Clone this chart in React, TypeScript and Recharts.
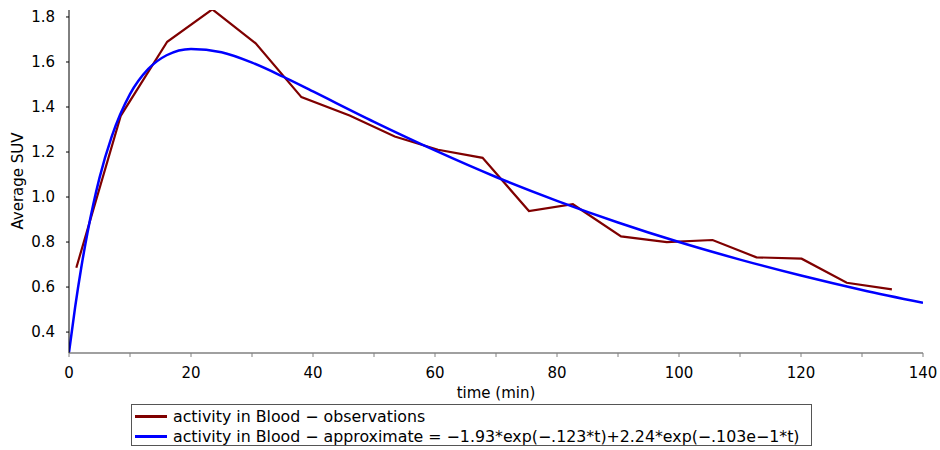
import { Label, Line, LineChart, XAxis, YAxis } from "recharts";

// observations (red)
const obsTime = [1.2, 8.5, 16.1, 23.5, 30.6, 38.1, 46, 53.4, 60.5, 67.8, 75.4, 82.6, 90.5, 98, 105.5, 112.7, 120.1, 127.5, 134.9];
const obsSuv = [0.686, 1.362, 1.69, 1.834, 1.683, 1.444, 1.362, 1.269, 1.21, 1.174, 0.938, 0.968, 0.825, 0.8, 0.809, 0.732, 0.726, 0.619, 0.59];

// fitted curve (blue)
const fitTime = [0, 1, 2, 3, 5, 7, 10, 13, 16, 20, 25, 30, 35, 40, 50, 60, 70, 80, 90, 100, 110, 120, 130, 140];
const fitSuv = [0.31, 0.51, 0.685, 0.837, 1.085, 1.268, 1.457, 1.569, 1.63, 1.658, 1.643, 1.597, 1.536, 1.469, 1.334, 1.207, 1.089, 0.983, 0.887, 0.8, 0.722, 0.651, 0.587, 0.53];

const xTicks = [0, 10, 20, 30, 40, 50, 60, 70, 80, 90, 100, 110, 120, 130, 140];
const yTicks = [0.4, 0.5, 0.6, 0.7, 0.8, 0.9, 1.0, 1.1, 1.2, 1.3, 1.4, 1.5, 1.6, 1.7, 1.8];

const OBS_LABEL = "activity in Blood - observations";
const FIT_LABEL = "activity in Blood - approximate = -1.93*exp(-.123*t)+2.24*exp(-.103e-1*t)";

const obsData = obsTime.map((t, i) => ({ t, v: obsSuv[i] }));
const fitData = fitTime.map((t, i) => ({ t, v: fitSuv[i] }));

const FONT = "'DejaVu Sans', sans-serif";
const RED = "#7f0000";
const BLUE = "#0000ff";
const AXIS = "#808080";

function XTick(props: any) {
  const { x, y, payload } = props;
  const v = Number(payload.value);
  if (v % 20 !== 0) return null;
  return (
    <text x={x} y={y} dy="0.71em" textAnchor="middle" fill="#000" fontSize={15} fontFamily={FONT}>
      {v}
    </text>
  );
}

function YTick(props: any) {
  const { x, y, payload } = props;
  const v = Number(payload.value);
  const major = Math.round(v * 10) % 2 === 0;
  if (!major) return null;
  return (
    <text x={x} y={y} dy="0.36em" textAnchor="end" fill="#000" fontSize={15} fontFamily={FONT}>
      {v.toFixed(1)}
    </text>
  );
}

function LegendBox() {
  const rows = [
    { color: RED, text: OBS_LABEL },
    { color: BLUE, text: FIT_LABEL },
  ];
  return (
    <div
      style={{
        position: "absolute",
        left: 131,
        top: 404,
        width: 681,
        height: 42,
        boxSizing: "border-box",
        border: "1px solid #555",
        padding: "1px 0 0 3px",
        fontFamily: FONT,
        fontSize: 15.8,
        color: "#000",
        background: "#fff",
      }}
    >
      {rows.map((r) => (
        <div key={r.text} style={{ display: "flex", alignItems: "center", height: 20, whiteSpace: "pre" }}>
          <span style={{ display: "inline-block", width: 32, height: 3, background: r.color, marginRight: 6 }} />
          <span>{r.text.replace(/-/g, "\u2212")}</span>
        </div>
      ))}
    </div>
  );
}

export default function App() {
  return (
    <div style={{ position: "absolute", left: 0, top: 0, width: 940, height: 450, background: "#fff" }}>
      <LineChart width={940} height={450} margin={{ top: 10, right: 17, left: 0, bottom: 52 }}>
        <XAxis
          type="number"
          dataKey="t"
          domain={[0, 140]}
          ticks={xTicks}
          allowDataOverflow
          tick={<XTick />}
          tickSize={4}
          tickMargin={10}
          tickLine={{ stroke: AXIS }}
          axisLine={{ stroke: AXIS, strokeWidth: 1.5 }}
          height={45}
        >
          <Label
            content={() => (
              <text x={496} y={398} textAnchor="middle" fontSize={15} fontFamily={FONT} fill="#000">
                time (min)
              </text>
            )}
          />
        </XAxis>
        <YAxis
          type="number"
          dataKey="v"
          domain={[0.307, 1.831]}
          ticks={yTicks}
          allowDataOverflow
          tick={<YTick />}
          tickSize={3}
          tickMargin={11}
          tickLine={{ stroke: "#000" }}
          axisLine={{ stroke: "#000" }}
          width={69}
        >
          <Label
            content={() => (
              <text
                x={18}
                y={181}
                transform="rotate(-90 18 181)"
                textAnchor="middle"
                dominantBaseline="central"
                fontSize={15}
                fontFamily={FONT}
                fill="#000"
              >
                Average SUV
              </text>
            )}
          />
        </YAxis>
        <Line
          data={obsData}
          dataKey="v"
          name={OBS_LABEL}
          type="linear"
          stroke={RED}
          strokeWidth={2.2}
          dot={false}
          isAnimationActive={false}
        />
        <Line
          data={fitData}
          dataKey="v"
          name={FIT_LABEL}
          type="monotone"
          stroke={BLUE}
          strokeWidth={2.5}
          dot={false}
          isAnimationActive={false}
        />
      </LineChart>
      <LegendBox />
    </div>
  );
}
